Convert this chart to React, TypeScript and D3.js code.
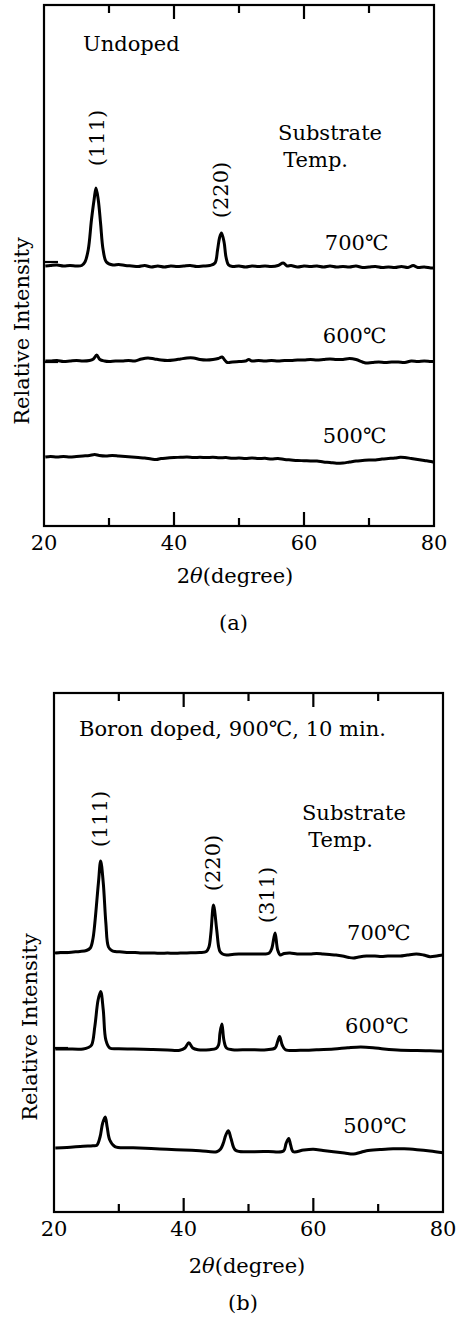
import React from 'react';
import * as d3 from 'd3';

type Pt = [number, number];

// ---- shared axis data ----
const xDomain: [number, number] = [20, 80];
const xTickLabels = [20, 40, 60, 80];
const xMajorTicks = [40, 60];
const xMinorTicks = [30, 50, 70];
const tempLabels = ['700℃', '600℃', '500℃'];

// ---- (a) Undoped: intensity relative to each trace's baseline (arb. units) ----
const undopedOffsets = [260, 165, 69];
const undopedYTicks = [264, 164];
const undoped700: Pt[] = [
  [20.2, 0], [21, 0.5], [22, 1], [23, 0], [24, 0.5], [25, 0], [25.8, 0.5], [26.3, 4], [26.8, 16],
  [27.3, 46], [27.7, 66], [28.0, 78], [28.35, 66], [28.7, 43], [29.1, 16], [29.6, 4], [30.6, 1],
  [31.5, 1.5], [32.5, 0.5], [33.5, 0], [34.5, -0.5], [35.5, 0.5], [36.5, -1], [37.5, 0], [38.5, -1],
  [39.5, 0], [40.5, -0.5], [41.5, 0], [42.5, 0.5], [43.5, -0.5], [44.5, 0], [45.5, 0.5], [46.3, 3],
  [46.7, 16], [47.0, 28], [47.3, 33], [47.7, 24], [48.0, 9], [48.4, 1], [49, -0.5], [50, 0], [51, -1],
  [52, 0], [53, -0.5], [54, 0], [55, -0.5], [56, 0.5], [56.8, 3], [57.4, 0], [58, 0.5], [59, -1],
  [60, 0], [61, -0.5], [62, 0], [63, -1], [64, 0], [65, -1], [66, -0.5], [67, -1], [68, 0], [69, -1.5],
  [70, -1], [71, -0.5], [72, -1.5], [73, -1], [74, -1.5], [75, -0.5], [76, -1.5], [76.8, 0.5],
  [77.5, -1.5], [78.5, -1], [79.5, -2], [80, -2],
];
const undoped600: Pt[] = [
  [20.2, 0], [21, 0], [22, 0.5], [23, -0.5], [24, 0], [25, 0.5], [26, 0], [27, 0.5], [27.6, 2], [28.1, 6],
  [28.6, 1.5], [29.3, 0], [30, -0.5], [31, 0], [32, 0], [33, 0.5], [34, 0], [35, 2], [36, 3], [37, 2],
  [38, 1], [39, 0.5], [40, 1], [41, 2], [42, 3], [43, 3], [44, 1.5], [45, 1], [46, 1.5], [46.8, 2.5],
  [47.4, 4], [47.8, 1], [48.2, -1.5], [49, -1], [50, -0.5], [51, 0], [51.5, 1.5], [52, 0], [53, 0.5],
  [54, 0], [55, 0.5], [56, 0], [57, 0.5], [58, 0.5], [59, 1], [60, 1], [61, 1.5], [62, 1], [63, 1.5],
  [64, 2], [65, 1.5], [66, 1.5], [67, 2.5], [68, 1.5], [69, -1], [69.5, -2], [70.5, -1.5], [71.5, -1],
  [72.5, -1.5], [73.5, -1], [74.5, -1], [75.5, -1.5], [76.5, 0], [77.5, -0.5], [78.5, 0], [79.5, -0.5],
  [80, -0.5],
];
const undoped500: Pt[] = [
  [20.2, 0], [21, 0.5], [22, 0], [23, 0.5], [24, 0], [25, 0.5], [26, 1], [27, 1.5], [27.8, 2.5],
  [28.5, 1.5], [29.5, 1], [30.5, 1.5], [31.5, 1], [32.5, 0.5], [33.5, 0], [34.5, -0.5], [35.5, -1],
  [36.5, -2], [37.3, -2.5], [38, -1.5], [39, -1], [40, -0.5], [41, -0.3], [42, 0], [43, -0.5], [44, -0.3],
  [45, -0.5], [46, -0.3], [47, -0.8], [48, -0.5], [49, -1.3], [50, -1], [51, -1.5], [52, -1], [53, -1.5],
  [54, -1.3], [55, -2], [56, -1.5], [57, -2.5], [58, -3], [59, -3.5], [60, -3.7], [61, -4], [62, -4],
  [63, -5], [64, -5.5], [65, -6.3], [66, -6], [67, -5], [68, -4], [69, -3.5], [70, -3], [71, -3], [72, -2],
  [73, -1.5], [74, -1], [74.8, -0.3], [75.5, -0.5], [76.5, -1.5], [77.5, -2.5], [78.5, -3.5],
  [79.5, -4.5], [80, -5.3],
];

// ---- (b) Boron doped ----
const boronOffsets = [259, 163, 64];
const boronYTicks = [259, 164];
const boron700: Pt[] = [
  [20.2, 0], [21, 0.5], [22, 0.5], [23, 1], [24, 1.5], [25, 2.5], [25.6, 5], [26.0, 14], [26.3, 30],
  [26.85, 70], [27.2, 92], [27.6, 70], [28.0, 30], [28.4, 6], [28.9, 2.5], [29.4, 1.5], [30.5, 1],
  [31.5, 0.5], [32.5, 0.5], [33.5, 0], [34.5, 0], [35.5, 0], [36.5, -0.3], [37.5, 0], [38.5, -0.3],
  [39.5, 0], [40.5, 0], [41.5, 0.3], [42.5, 0.5], [43.5, 1.5], [43.9, 6], [44.2, 20], [44.6, 48],
  [45.1, 23], [45.4, 6], [45.6, 1.5], [46, -1], [46.6, -2], [47.5, -1.5], [48.5, -1], [49.5, -1],
  [50.5, -1], [51.5, -1], [52.5, -1], [53.2, 0], [53.6, 4.7], [54.1, 20], [54.5, 3], [54.9, -2],
  [55.5, -0.5], [56.4, 0], [57.5, -1], [58.5, -1], [59.5, -1], [60.5, -0.5], [61.5, -1], [62.5, -1.5],
  [63.5, -2], [64.5, -3], [65.5, -4.5], [66.2, -5], [67, -4], [68.2, -3], [69.5, -3], [70.5, -3.5],
  [71.5, -3], [72.5, -3], [73.4, -3], [74.5, -2], [75.9, -1], [77, -2], [78, -3.7], [79, -3], [80, -2],
];
const boron600: Pt[] = [
  [20.2, 0], [22, 0], [24.5, 0], [25.3, 1.5], [25.8, 4], [26.3, 22.6], [26.8, 49], [27.2, 57.6],
  [27.6, 39], [28.0, 9], [28.6, 1], [30, 0.3], [32.2, 0], [35, -0.5], [37.5, -1], [39.4, -1.3],
  [40.2, 1], [40.8, 6.3], [41.4, 1], [42.2, -0.7], [44, -0.7], [45.0, 0.5], [45.4, 4.3], [45.6, 16],
  [45.9, 25], [46.2, 9], [46.6, 1], [47.5, -0.7], [50, -0.7], [52.8, -0.7], [54.1, 1], [54.5, 7.6],
  [54.8, 12.6], [55.2, 4], [55.7, -0.7], [58.0, -1.3], [60.5, -0.8], [63.2, 0], [65.3, 1.2], [67.3, 2],
  [69.2, 1.3], [70.9, 0], [73.5, -1.3], [76, -1.5], [78, -1.8], [80, -2.3],
];
const boron500: Pt[] = [
  [20.2, 0], [22, 0.5], [24.5, 1.7], [26.0, 2.2], [26.6, 2.7], [27.1, 11], [27.5, 24.7], [27.9, 31],
  [28.2, 21], [28.6, 8], [29.4, 1.3], [32.2, 0.3], [35, -0.5], [37.4, -1.3], [40, -2], [42.5, -2.7],
  [45.1, -3.7], [45.7, -1], [46.1, 4.6], [46.5, 13], [46.9, 17.3], [47.3, 9.6], [48.0, -2.3],
  [50.3, -3.7], [53, -3.5], [55.4, -3], [55.8, 4.6], [56.2, 9.6], [56.5, 3], [56.9, -3.7], [58.5, -2],
  [60.0, -1.3], [61.5, -2.5], [63.1, -3.7], [64.8, -5], [66.2, -6], [67.2, -4.5], [68.2, -2.7],
  [70.3, -1.5], [72.3, -0.7], [74, -0.8], [76, -1.7], [78, -3], [80, -4.7],
];

const FONT = '"DejaVu Serif", "Liberation Serif", serif';
const FS = 21;

interface PanelProps {
  xRange: [number, number];
  yRange: [number, number];
  yMax: number;
  series: Pt[][];
  offsets: number[];
  yTicks: number[];
  children: (x: d3.ScaleLinear<number, number>, y: d3.ScaleLinear<number, number>) => React.ReactNode;
}

function Panel({ xRange, yRange, yMax, series, offsets, yTicks, children }: PanelProps) {
  const x = d3.scaleLinear().domain(xDomain).range(xRange);
  const y = d3.scaleLinear().domain([0, yMax]).range(yRange);
  const [x0, x1] = xRange;
  const [yb, yt] = yRange;
  const major = 14;
  const minor = 8;
  return (
    <g>
      <rect x={x0} y={yt} width={x1 - x0} height={yb - yt} fill="none" stroke="#000" strokeWidth={2.2} />
      {xMajorTicks.map((t) => (
        <g key={'M' + t}>
          <line x1={x(t)} x2={x(t)} y1={yb} y2={yb - major} stroke="#000" strokeWidth={2.2} />
          <line x1={x(t)} x2={x(t)} y1={yt} y2={yt + major} stroke="#000" strokeWidth={2.2} />
        </g>
      ))}
      {xMinorTicks.map((t) => (
        <g key={'m' + t}>
          <line x1={x(t)} x2={x(t)} y1={yb} y2={yb - minor} stroke="#000" strokeWidth={2.2} />
          <line x1={x(t)} x2={x(t)} y1={yt} y2={yt + minor} stroke="#000" strokeWidth={2.2} />
        </g>
      ))}
      {yTicks.map((t) => (
        <line key={'y' + t} x1={x0} x2={x0 + major} y1={y(t)} y2={y(t)} stroke="#000" strokeWidth={2.2} />
      ))}
      {xTickLabels.map((t) => (
        <text key={'l' + t} x={x(t)} y={yb + 24} textAnchor="middle" fontFamily={FONT} fontSize={FS}>
          {t}
        </text>
      ))}
      {series.map((s, i) => {
        const line = d3
          .line<Pt>()
          .x((d) => x(d[0]))
          .y((d) => y(d[1] + offsets[i]))
          .curve(d3.curveCatmullRom.alpha(0.5));
        return (
          <path key={'s' + i} d={line(s) || ''} fill="none" stroke="#000" strokeWidth={3} strokeLinejoin="round" />
        );
      })}
      {children(x, y)}
    </g>
  );
}

const T = (props: any) => <text fontFamily={FONT} fontSize={FS} fill="#000" {...props} />;

function Rot({ x, y, children }: { x: number; y: number; children: React.ReactNode }) {
  return (
    <text
      transform={`translate(${x},${y}) rotate(-90)`}
      textAnchor="middle"
      dominantBaseline="central"
      fontFamily={FONT}
      fontSize={FS}
    >
      {children}
    </text>
  );
}

export default function App() {
  return (
    <svg
      width={458}
      height={1319}
      viewBox="0 0 458 1319"
      style={{ position: 'absolute', left: 0, top: 0, background: '#fff' }}
    >
      <rect x={0} y={0} width={458} height={1319} fill="#fff" />
      <Panel
        xRange={[44, 434]}
        yRange={[526, 5]}
        yMax={521}
        series={[undoped700, undoped600, undoped500]}
        offsets={undopedOffsets}
        yTicks={undopedYTicks}
      >
        {(x, y) => (
          <g>
            <T x={x(26)} y={y(475)}>Undoped</T>
            <Rot x={x(28.15)} y={y(388)}>(111)</Rot>
            <Rot x={x(47.2)} y={y(336)}>(220)</Rot>
            <T x={x(56)} y={y(386)}>Substrate</T>
            <T x={x(56.8)} y={y(359)}>Temp.</T>
            <T x={x(63.2)} y={y(276)}>{tempLabels[0]}</T>
            <T x={x(62.9)} y={y(183)}>{tempLabels[1]}</T>
            <T x={x(62.9)} y={y(83)}>{tempLabels[2]}</T>
            <Rot x={22} y={331}>Relative Intensity</Rot>
            <T x={235} y={583} textAnchor="middle">
              2<tspan fontStyle="italic">θ</tspan>(degree)
            </T>
            <T x={233.5} y={630} textAnchor="middle">(a)</T>
          </g>
        )}
      </Panel>
      <Panel
        xRange={[54, 443]}
        yRange={[1212, 693]}
        yMax={519}
        series={[boron700, boron600, boron500]}
        offsets={boronOffsets}
        yTicks={boronYTicks}
      >
        {(x, y) => (
          <g>
            <T x={x(23.86)} y={y(476)}>Boron doped, 900℃, 10 min.</T>
            <Rot x={x(27.1)} y={y(393)}>(111)</Rot>
            <Rot x={x(44.5)} y={y(349)}>(220)</Rot>
            <Rot x={x(52.85)} y={y(317)}>(311)</Rot>
            <T x={x(58.25)} y={y(392)}>Substrate</T>
            <T x={x(59.2)} y={y(365)}>Temp.</T>
            <T x={x(65.2)} y={y(272)}>{tempLabels[0]}</T>
            <T x={x(64.9)} y={y(179)}>{tempLabels[1]}</T>
            <T x={x(64.6)} y={y(79)}>{tempLabels[2]}</T>
            <Rot x={30} y={1027}>Relative Intensity</Rot>
            <T x={247} y={1273} textAnchor="middle">
              2<tspan fontStyle="italic">θ</tspan>(degree)
            </T>
            <T x={243} y={1310} textAnchor="middle">(b)</T>
          </g>
        )}
      </Panel>
    </svg>
  );
}
